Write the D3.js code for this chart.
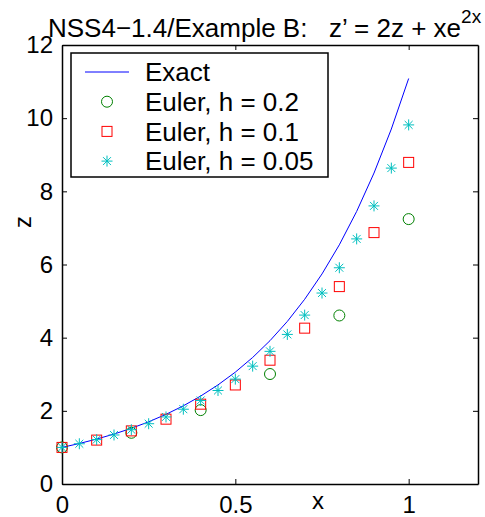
<!DOCTYPE html>
<html>
<head>
<meta charset="utf-8">
<script src="https://cdn.jsdelivr.net/npm/d3@7"></script>
<style>
  body { margin: 0; background: #fff; }
  svg { display: block; font-family: "Liberation Sans", Arial, sans-serif; }
  .axis path, .axis line { stroke: #000; }
  .axis text { font-size: 24px; fill: #000; font-family: "Liberation Sans", Arial, sans-serif; }
</style>
</head>
<body>
<svg id="chart"></svg>
<script>
// exact solution z = e^(2x)(1 + x^2/2), sampled every 0.05
const exactX = [0, 0.05, 0.1, 0.15, 0.2, 0.25, 0.3, 0.35, 0.4, 0.45, 0.5,
                0.55, 0.6, 0.65, 0.7, 0.75, 0.8, 0.85, 0.9, 0.95, 1.0];
const exactZ = [1.000, 1.107, 1.228, 1.365, 1.522, 1.700, 1.904, 2.137, 2.404, 2.709, 3.058,
                3.459, 3.918, 4.444, 5.049, 5.742, 6.538, 7.451, 8.500, 9.703, 11.084];

const eulerX02 = [0, 0.2, 0.4, 0.6, 0.8, 1.0];
const eulerZ02 = [1.000, 1.400, 2.020, 3.006, 4.606, 7.241];

const eulerX01 = [0, 0.1, 0.2, 0.3, 0.4, 0.5, 0.6, 0.7, 0.8, 0.9, 1.0];
const eulerZ01 = [1.000, 1.200, 1.452, 1.772, 2.182, 2.707, 3.384, 4.260, 5.396, 6.872, 8.791];

const eulerX005 = [0, 0.05, 0.1, 0.15, 0.2, 0.25, 0.3, 0.35, 0.4, 0.45, 0.5,
                   0.55, 0.6, 0.65, 0.7, 0.75, 0.8, 0.85, 0.9, 0.95, 1.0];
const eulerZ005 = [1.000, 1.100, 1.213, 1.340, 1.484, 1.648, 1.833, 2.044, 2.283, 2.556, 2.867,
                   3.222, 3.626, 4.089, 4.617, 5.220, 5.911, 6.700, 7.602, 8.635, 9.816];

const xTicks = [0, 0.5, 1];
const xTickLabels = ["0", "0.5", "1"];
const yTicks = [0, 2, 4, 6, 8, 10, 12];

const legendLabels = ["Exact", "Euler, h = 0.2", "Euler, h = 0.1", "Euler, h = 0.05"];

const width = 485, height = 517;
const margin = {top: 45, right: 7, bottom: 33, left: 62};
const w = width - margin.left - margin.right;
const h = height - margin.top - margin.bottom;

const svg = d3.select("#chart").attr("width", width).attr("height", height);

const x = d3.scaleLinear().domain([0, 1.2]).range([0, w]);
const y = d3.scaleLinear().domain([0, 12]).range([h, 0]);

const g = svg.append("g").attr("transform", `translate(${margin.left},${margin.top})`);

// axes (MATLAB style box, inward ticks)
g.append("g").attr("class", "axis")
  .attr("transform", `translate(0,${h})`)
  .call(d3.axisBottom(x).tickValues(xTicks).tickFormat((d, i) => xTickLabels[i])
    .tickSizeInner(-5).tickSizeOuter(0).tickPadding(12));
g.append("g").attr("class", "axis")
  .call(d3.axisLeft(y).tickValues(yTicks).tickSizeInner(-5).tickSizeOuter(0).tickPadding(9));
g.append("g").attr("class", "axis")
  .call(d3.axisTop(x).tickValues(xTicks).tickFormat("").tickSizeInner(-5).tickSizeOuter(0));
g.append("g").attr("class", "axis")
  .attr("transform", `translate(${w},0)`)
  .call(d3.axisRight(y).tickValues(yTicks).tickFormat("").tickSizeInner(-5).tickSizeOuter(0));
g.selectAll(".axis path").attr("stroke-width", 1.5);

// exact curve
const line = d3.line().x((d, i) => x(exactX[i])).y(d => y(d));
g.append("path").datum(exactZ)
  .attr("d", line).attr("fill", "none").attr("stroke", "#0000ff").attr("stroke-width", 1);

function starPath(r) {
  const k = r * 0.72;
  return `M${-r},0L${r},0M0,${-r}L0,${r}M${-k},${-k}L${k},${k}M${-k},${k}L${k},${-k}`;
}

// h = 0.2 circles
g.selectAll(".c02").data(eulerZ02).join("circle")
  .attr("cx", (d, i) => x(eulerX02[i])).attr("cy", d => y(d)).attr("r", 5.5)
  .attr("fill", "none").attr("stroke", "#008000").attr("stroke-width", 1);

// h = 0.1 squares
g.selectAll(".s01").data(eulerZ01).join("rect")
  .attr("x", (d, i) => x(eulerX01[i]) - 5).attr("y", d => y(d) - 5)
  .attr("width", 10).attr("height", 10)
  .attr("fill", "none").attr("stroke", "#ff0000").attr("stroke-width", 1);

// h = 0.05 stars
g.selectAll(".a005").data(eulerZ005).join("path")
  .attr("transform", (d, i) => `translate(${x(eulerX005[i])},${y(d)})`)
  .attr("d", starPath(5.5))
  .attr("fill", "none").attr("stroke", "#00bfbf").attr("stroke-width", 1);

// legend
const lg = svg.append("g").attr("transform", "translate(71,53)");
lg.append("rect").attr("width", 257).attr("height", 124)
  .attr("fill", "#fff").attr("stroke", "#000").attr("stroke-width", 1.5);
const rowY = i => 19 + i * 29.7;
lg.append("line").attr("x1", 14).attr("x2", 58).attr("y1", rowY(0)).attr("y2", rowY(0))
  .attr("stroke", "#0000ff").attr("stroke-width", 1);
lg.append("circle").attr("cx", 36).attr("cy", rowY(1)).attr("r", 5.5)
  .attr("fill", "none").attr("stroke", "#008000");
lg.append("rect").attr("x", 31).attr("y", rowY(2) - 5).attr("width", 10).attr("height", 10)
  .attr("fill", "none").attr("stroke", "#ff0000");
lg.append("path").attr("transform", `translate(36,${rowY(3)})`).attr("d", starPath(5.5))
  .attr("fill", "none").attr("stroke", "#00bfbf");
lg.selectAll(".lt").data(legendLabels).join("text")
  .attr("x", 74).attr("y", (d, i) => rowY(i)).attr("dy", "0.36em")
  .style("font-size", "26px").text(d => d);

// title
const title = svg.append("text").attr("x", 48).attr("y", 37)
  .style("font-size", "26px").style("white-space", "pre");
title.append("tspan").text("NSS4\u22121.4/Example B:   z\u2019 = 2z + xe");
title.append("tspan").attr("dy", -14).style("font-size", "19px").text("2x");

// axis labels
svg.append("text").attr("x", 318).attr("y", 500).attr("dy", "0.36em")
  .attr("text-anchor", "middle").style("font-size", "24px").text("x");
svg.append("text").attr("transform", "translate(22,222) rotate(-90)")
  .attr("dy", "0.36em").attr("text-anchor", "middle").style("font-size", "24px").text("z");
</script>
</body>
</html>
